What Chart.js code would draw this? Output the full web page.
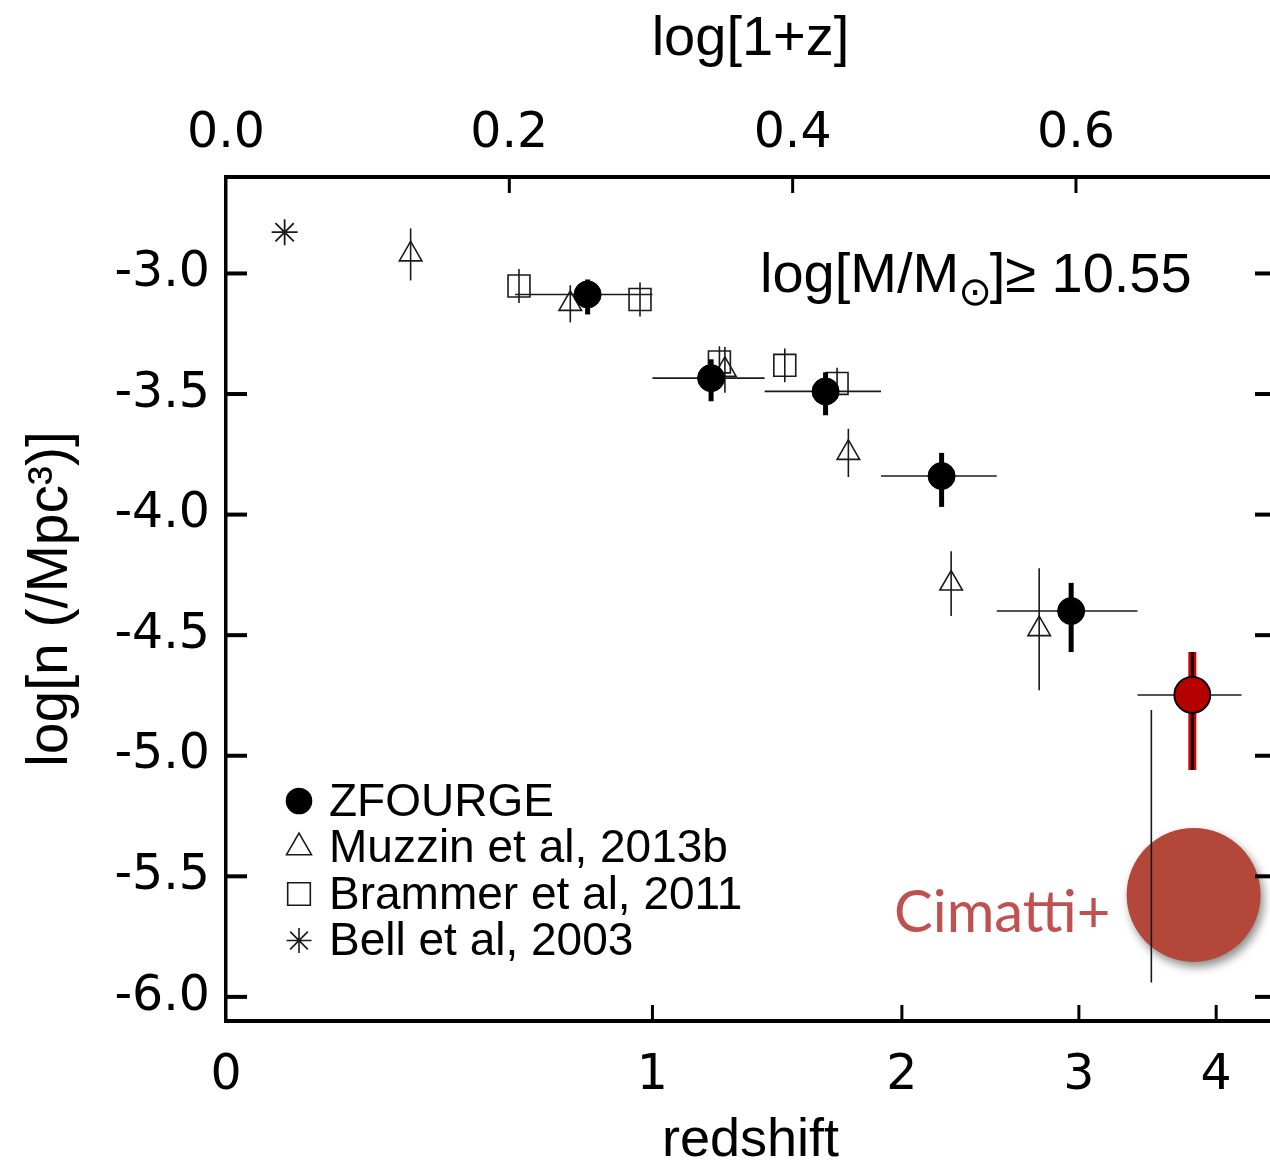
<!DOCTYPE html>
<html>
<head>
<meta charset="utf-8">
<script src="https://cdn.jsdelivr.net/npm/chart.js@4.4.1/dist/chart.umd.min.js"></script>
<style>
  html, body { margin: 0; padding: 0; background: #fff; overflow: hidden; }
  #wrap { width: 1290px; height: 1163px; }
</style>
</head>
<body>
<div id="wrap"><canvas id="densityChart" width="1290" height="1163"></canvas></div>
<script>
// ZFOURGE (this work)
const zfZ    = [0.80, 1.20, 1.65, 2.20, 2.95];
const zfLogN = [-3.087, -3.434, -3.489, -3.840, -4.400];
const zfZLo  = [0.60, 1.00, 1.40, 1.90, 2.50];
const zfZHi  = [1.00, 1.40, 1.90, 2.50, 3.40];
const zfNHi  = [-3.025, -3.356, -3.410, -3.744, -4.283];
const zfNLo  = [-3.170, -3.530, -3.588, -3.968, -4.570];

// ZFOURGE highest-z bin (red)
const hzZ    = [3.81];
const hzLogN = [-4.748];
const hzZLo  = [3.40];
const hzZHi  = [4.21];
const hzNHi  = [-4.570];
const hzNLo  = [-5.059];

// Muzzin et al 2013b
const muZ    = [0.35, 0.75, 1.25, 1.75, 2.25, 2.75, 3.50];
const muLogN = [-2.921, -3.126, -3.400, -3.744, -4.286, -4.475, -5.375];
const muErr  = [0.108, 0.077, 0.095, 0.100, 0.134, 0.253, 0.565];

// Brammer et al 2011
const brZ    = [0.61, 0.96, 1.23, 1.48, 1.70];
const brLogN = [-3.052, -3.108, -3.367, -3.381, -3.456];
const brErr  = [0.070, 0.070, 0.065, 0.070, 0.065];

// Bell et al 2003
const beZ    = [0.10];
const beLogN = [-2.829];

// Cimatti+
const ciZ    = [3.82];
const ciLogN = [-5.577];

// axes
const zTicks   = [0, 1, 2, 3, 4];
const logTicks = [0.0, 0.2, 0.4, 0.6];
const nTicks   = [-6.0, -5.5, -5.0, -4.5, -4.0, -3.5, -3.0];
const legendLabels = ["ZFOURGE", "Muzzin et al, 2013b", "Brammer et al, 2011", "Bell et al, 2003"];

const lg = z => Math.log10(1 + z);
const pts = (zs, ns) => zs.map((z, i) => ({ x: lg(z), y: ns[i] }));

const FONT = "'Liberation Sans', Arial, sans-serif";
const TICKFONT = "'DejaVu Sans', sans-serif";
const INK = "#1a1a1a";

/* ---------- plugins ---------- */

// error bars, drawn just before each dataset's markers
const errorBars = {
  id: "errorBars",
  beforeDatasetDraw(chart, args) {
    const ds = chart.data.datasets[args.index];
    const e = ds.errs;
    if (!e) return;
    const { ctx, chartArea: a, scales: { x, y } } = chart;
    ctx.save();
    ctx.beginPath();
    ctx.rect(a.left, a.top, a.right - a.left, a.bottom - a.top);
    ctx.clip();
    ctx.lineCap = "butt";
    ds.data.forEach((p, i) => {
      const px = x.getPixelForValue(p.x);
      const py = y.getPixelForValue(p.y);
      if (e.xLo) {
        ctx.strokeStyle = e.hColor;
        ctx.lineWidth = e.hWidth;
        ctx.beginPath();
        ctx.moveTo(x.getPixelForValue(lg(e.xLo[i])), py);
        ctx.lineTo(x.getPixelForValue(lg(e.xHi[i])), py);
        ctx.stroke();
      }
      e.vStrokes.forEach(s => {
        ctx.strokeStyle = s.color;
        ctx.lineWidth = s.width;
        ctx.beginPath();
        ctx.moveTo(px, y.getPixelForValue(e.yLo[i]));
        ctx.lineTo(px, y.getPixelForValue(e.yHi[i]));
        ctx.stroke();
      });
    });
    ctx.restore();
  }
};

// soft shadow under the Cimatti disc
const discShadow = {
  id: "discShadow",
  beforeDatasetDraw(chart, args) {
    if (!chart.data.datasets[args.index].shadow) return;
    const ctx = chart.ctx;
    ctx.save();
    ctx.shadowColor = "rgba(0,0,0,0.45)";
    ctx.shadowBlur = 10;
    ctx.shadowOffsetX = 3;
    ctx.shadowOffsetY = 5;
  },
  afterDatasetDraw(chart, args) {
    if (!chart.data.datasets[args.index].shadow) return;
    chart.ctx.restore();
  }
};

// inward tick marks on all four sides
const inwardTicks = {
  id: "inwardTicks",
  afterDraw(chart) {
    const { ctx, chartArea: a, scales } = chart;
    ctx.save();
    ctx.strokeStyle = "#000";
    ctx.lineWidth = 3;
    scales.x.ticks.forEach(t => {
      const px = scales.x.getPixelForValue(t.value);
      if (px <= a.left + 2) return;
      ctx.beginPath(); ctx.moveTo(px, a.bottom); ctx.lineTo(px, a.bottom - 16); ctx.stroke();
    });
    scales.x2.ticks.forEach(t => {
      const px = scales.x2.getPixelForValue(t.value);
      if (px <= a.left + 2) return;
      ctx.beginPath(); ctx.moveTo(px, a.top); ctx.lineTo(px, a.top + 16); ctx.stroke();
    });
    ctx.lineWidth = 4;
    scales.y.ticks.forEach(t => {
      const py = scales.y.getPixelForValue(t.value);
      ctx.beginPath(); ctx.moveTo(a.left, py); ctx.lineTo(a.left + 21, py); ctx.stroke();
      ctx.beginPath(); ctx.moveTo(a.right, py); ctx.lineTo(a.right - 20, py); ctx.stroke();
    });
    ctx.restore();
  }
};

// legend, mass-limit label and Cimatti+ label
const annotations = {
  id: "annotations",
  afterDraw(chart) {
    const { ctx, chartArea: a } = chart;
    const sets = chart.data.datasets;
    ctx.save();

    // legend in lower left
    const mx = a.left + 73, tx = a.left + 103;
    const y0 = a.bottom - 220, dy = 46.5;
    const legendSets = [0, 2, 3, 4];
    const legendRadius = [12.5, 14.4, 16, 12.5];
    legendSets.forEach((di, k) => {
      const ds = sets[di];
      const yy = y0 + k * dy;
      ctx.fillStyle = ds.backgroundColor;
      ctx.strokeStyle = ds.borderColor;
      ctx.lineWidth = 1.6;
      Chart.helpers.drawPoint(ctx, { pointStyle: ds.pointStyle, radius: legendRadius[k], borderWidth: 1.6, rotation: 0 }, mx, yy);
      ctx.fillStyle = "#000";
      ctx.font = "46px " + FONT;
      ctx.textAlign = "left";
      ctx.textBaseline = "middle";
      ctx.fillText(legendLabels[k], tx, yy + 2);
    });

    // log[M/M_sun] >= 10.55
    ctx.fillStyle = "#000";
    ctx.textBaseline = "alphabetic";
    ctx.textAlign = "left";
    let x0 = a.left + 534;
    const base = a.top + 115;
    ctx.font = "56px " + FONT;
    ctx.fillText("log[M/M", x0, base);
    x0 += ctx.measureText("log[M/M").width;
    ctx.font = "40px 'DejaVu Sans', sans-serif";
    ctx.fillText("\u2299", x0 - 1, base + 13);
    x0 += ctx.measureText("\u2299").width - 3;
    ctx.font = "56px " + FONT;
    ctx.fillText("]\u2265 10.55", x0, base);

    // Cimatti+
    ctx.fillStyle = "#c05151";
    ctx.font = "58px Lato, 'Open Sans', sans-serif";
    ctx.fillText("Cimatti+", a.left + 668, a.top + 755);
    ctx.restore();
  }
};

/* ---------- chart ---------- */

const xMax = 0.7405;

// fix the plot box: no extra label padding from any axis
const fixH = h => s => { s.height = h; s.paddingLeft = 0; s.paddingRight = 0; };
const fixW = w => s => { s.width = w; s.paddingTop = 0; s.paddingBottom = 0; };

new Chart(document.getElementById("densityChart"), {
  type: "scatter",
  data: {
    datasets: [
      {
        label: "ZFOURGE",
        data: pts(zfZ, zfLogN),
        pointStyle: "circle",
        pointRadius: 13.5,
        backgroundColor: "#000",
        borderColor: "#000",
        borderWidth: 1,
        order: 1,
        errs: { xLo: zfZLo, xHi: zfZHi, yLo: zfNLo, yHi: zfNHi, hColor: INK, hWidth: 1.6,
                vStrokes: [{ color: "#000", width: 5 }] }
      },
      {
        label: "ZFOURGE high-z",
        data: pts(hzZ, hzLogN),
        pointStyle: "circle",
        pointRadius: 18,
        backgroundColor: "#b40000",
        borderColor: "#000",
        borderWidth: 1.8,
        order: 0,
        errs: { xLo: hzZLo, xHi: hzZHi, yLo: hzNLo, yHi: hzNHi, hColor: INK, hWidth: 1.6,
                vStrokes: [{ color: "#d40000", width: 8 }, { color: "#000", width: 3 }] }
      },
      {
        label: "Muzzin et al, 2013b",
        data: pts(muZ, muLogN),
        pointStyle: "triangle",
        pointRadius: ctx => (ctx.dataIndex === muZ.length - 1 ? 0 : 13),
        backgroundColor: "rgba(0,0,0,0)",
        borderColor: INK,
        borderWidth: 1.6,
        order: 2,
        errs: { yLo: muLogN.map((v, i) => v - muErr[i]), yHi: muLogN.map((v, i) => v + muErr[i]),
                vStrokes: [{ color: INK, width: 1.6 }] }
      },
      {
        label: "Brammer et al, 2011",
        data: pts(brZ, brLogN),
        pointStyle: "rect",
        pointRadius: 15.5,
        backgroundColor: "rgba(0,0,0,0)",
        borderColor: INK,
        borderWidth: 1.6,
        order: 3,
        errs: { yLo: brLogN.map((v, i) => v - brErr[i]), yHi: brLogN.map((v, i) => v + brErr[i]),
                vStrokes: [{ color: INK, width: 1.6 }] }
      },
      {
        label: "Bell et al, 2003",
        data: pts(beZ, beLogN),
        pointStyle: "star",
        pointRadius: 13,
        backgroundColor: "rgba(0,0,0,0)",
        borderColor: INK,
        borderWidth: 1.8,
        order: 4
      },
      {
        label: "Cimatti+",
        data: pts(ciZ, ciLogN),
        pointStyle: "circle",
        pointRadius: 67,
        backgroundColor: "#b3473a",
        borderWidth: 0,
        order: 9,
        shadow: true
      }
    ]
  },
  options: {
    responsive: false,
    animation: false,
    events: [],
    layout: { autoPadding: false, padding: { left: 0, right: 15, top: 0, bottom: 0 } },
    plugins: { legend: { display: false }, tooltip: { enabled: false } },
    scales: {
      x: {
        type: "linear",
        position: "bottom",
        min: 0,
        max: xMax,
        afterBuildTicks: s => { s.ticks = zTicks.map(z => ({ value: lg(z) })); },
        afterFit: fixH(142),
        grid: { display: false, drawTicks: false },
        border: { display: true, color: "#000", width: 4 },
        ticks: {
          autoSkip: false,
          maxRotation: 0,
          padding: 26,
          color: "#000",
          font: { family: TICKFONT, size: 49 },
          callback: (v, i) => String(zTicks[i])
        },
        title: { display: true, text: "redshift", color: "#000",
                 font: { family: FONT, size: 54, lineHeight: 0.8 }, padding: { top: 0, bottom: 0 } }
      },
      x2: {
        type: "linear",
        position: "top",
        min: 0,
        max: xMax,
        afterBuildTicks: s => { s.ticks = logTicks.map(v => ({ value: v })); },
        afterFit: fixH(177),
        grid: { display: false, drawTicks: false },
        border: { display: true, color: "#000", width: 4 },
        ticks: {
          autoSkip: false,
          maxRotation: 0,
          padding: 13,
          color: "#000",
          font: { family: TICKFONT, size: 49 },
          callback: v => v.toFixed(1)
        },
        title: { display: true, text: "log[1+z]", color: "#000",
                 font: { family: FONT, size: 56, lineHeight: 1.0 }, padding: { top: 12, bottom: 0 } }
      },
      y: {
        type: "linear",
        position: "left",
        min: -6.1,
        max: -2.6,
        afterBuildTicks: s => { s.ticks = nTicks.map(v => ({ value: v })); },
        afterFit: fixW(226),
        grid: { display: false, drawTicks: false },
        border: { display: true, color: "#000", width: 3.5 },
        ticks: {
          autoSkip: false,
          padding: 16,
          color: "#000",
          font: { family: TICKFONT, size: 49 },
          callback: v => v.toFixed(1)
        },
        title: { display: true, text: "log[n (/Mpc\u00B3)]", color: "#000",
                 font: { family: FONT, size: 57, lineHeight: 1.0 }, padding: { top: 23, bottom: 0 } }
      }
    }
  },
  plugins: [errorBars, discShadow, inwardTicks, annotations]
});
</script>
</body>
</html>
